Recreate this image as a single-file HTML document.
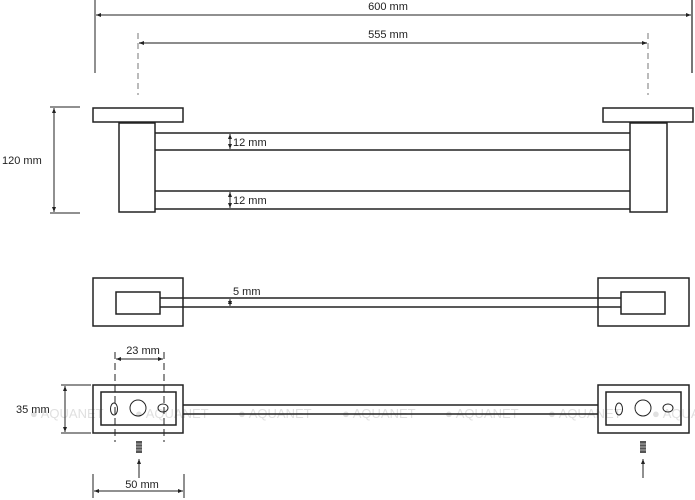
<!DOCTYPE html>
<html><head><meta charset="utf-8"><style>
html,body{margin:0;padding:0;background:#fff;}
svg{display:block;}
text{font-family:"Liberation Sans",sans-serif;font-size:11px;fill:#222;}
.w{font-size:13px;fill:#e0e0e0;}
</style></head><body>
<svg width="695" height="500" viewBox="0 0 695 500">
<defs>
<marker id="a" markerWidth="6" markerHeight="6" refX="5" refY="3" orient="auto-start-reverse" markerUnits="userSpaceOnUse"><path d="M0,1 L5,3 L0,5 z" fill="#222"/></marker>
</defs>
<g>
<text class="w" x="30" y="418">● AQUANET</text>
<text class="w" x="135" y="418">● AQUANET</text>
<text class="w" x="238" y="418">● AQUANET</text>
<text class="w" x="342" y="418">● AQUANET</text>
<text class="w" x="445" y="418">● AQUANET</text>
<text class="w" x="548" y="418">● AQUANET</text>
<text class="w" x="652" y="418">● AQUANET</text>
</g>
<g stroke="#222" fill="none" stroke-width="1">
<line x1="95" y1="0" x2="95" y2="73"/>
<line x1="692" y1="0" x2="692" y2="73" stroke="#777" stroke-width="2"/>
<line x1="96" y1="15" x2="691" y2="15" marker-start="url(#a)" marker-end="url(#a)"/>
<line x1="138" y1="33" x2="138" y2="95" stroke="#777" stroke-dasharray="6,4"/>
<line x1="648" y1="33" x2="648" y2="95" stroke="#777" stroke-dasharray="6,4"/>
<line x1="139" y1="43" x2="647" y2="43" stroke="#666" stroke-width="1.5" marker-start="url(#a)" marker-end="url(#a)"/>
<line x1="50" y1="107" x2="80" y2="107"/>
<line x1="50" y1="213" x2="80" y2="213"/>
<line x1="54" y1="108" x2="54" y2="212" marker-start="url(#a)" marker-end="url(#a)"/>
<g stroke-width="1.5">
<rect x="93" y="108" width="90" height="14"/>
<rect x="119" y="123" width="36" height="89"/>
<rect x="603" y="108" width="90" height="14"/>
<rect x="630" y="123" width="37" height="89"/>
<line x1="155" y1="133" x2="630" y2="133"/>
<line x1="155" y1="150" x2="630" y2="150"/>
<line x1="155" y1="191" x2="630" y2="191"/>
<line x1="155" y1="209" x2="630" y2="209"/>
</g>
<line x1="230" y1="134" x2="230" y2="149" marker-start="url(#a)" marker-end="url(#a)"/>
<line x1="230" y1="192" x2="230" y2="208" marker-start="url(#a)" marker-end="url(#a)"/>
<g stroke-width="1.5">
<rect x="93" y="278" width="90" height="48"/>
<rect x="116" y="292" width="44" height="22"/>
<rect x="598" y="278" width="91" height="48"/>
<rect x="621" y="292" width="44" height="22"/>
<line x1="160" y1="298" x2="621" y2="298"/>
<line x1="160" y1="307" x2="621" y2="307"/>
</g>
<line x1="230" y1="299" x2="230" y2="306" marker-start="url(#a)" marker-end="url(#a)"/>
<g stroke-width="1.5">
<rect x="93" y="385" width="90" height="48"/>
<rect x="101" y="392" width="75" height="33"/>
<rect x="598" y="385" width="91" height="48"/>
<rect x="606" y="392" width="75" height="33"/>
<line x1="183" y1="405" x2="598" y2="405"/>
<line x1="183" y1="414" x2="598" y2="414"/>
</g>
<ellipse cx="114" cy="409" rx="3.5" ry="6"/>
<circle cx="138" cy="408" r="8"/>
<ellipse cx="163" cy="408" rx="5" ry="4"/>
<ellipse cx="619" cy="409" rx="3.5" ry="6"/>
<circle cx="643" cy="408" r="8"/>
<ellipse cx="668" cy="408" rx="5" ry="4"/>
<line x1="115" y1="352" x2="115" y2="442" stroke-dasharray="7,4"/>
<line x1="164" y1="352" x2="164" y2="442" stroke-dasharray="7,4"/>
<line x1="116" y1="359" x2="163" y2="359" marker-start="url(#a)" marker-end="url(#a)"/>
<line x1="61" y1="385" x2="91" y2="385"/>
<line x1="61" y1="433" x2="91" y2="433"/>
<line x1="65" y1="386" x2="65" y2="432" marker-start="url(#a)" marker-end="url(#a)"/>
<line x1="93" y1="474" x2="93" y2="498"/>
<line x1="184" y1="474" x2="184" y2="498"/>
<line x1="94" y1="491" x2="183" y2="491" marker-start="url(#a)" marker-end="url(#a)"/>
<line x1="139" y1="478" x2="139" y2="459" marker-end="url(#a)"/>
<line x1="643" y1="478" x2="643" y2="459" marker-end="url(#a)"/>
</g>
<rect x="136" y="441" width="6" height="12" fill="#555"/>
<rect x="640" y="441" width="6" height="12" fill="#555"/>
<g stroke="#ccc" stroke-width="0.8">
<line x1="136" y1="444" x2="142" y2="444"/><line x1="136" y1="447" x2="142" y2="447"/><line x1="136" y1="450" x2="142" y2="450"/>
<line x1="640" y1="444" x2="646" y2="444"/><line x1="640" y1="447" x2="646" y2="447"/><line x1="640" y1="450" x2="646" y2="450"/>
</g>
<text x="388" y="10" text-anchor="middle">600 mm</text>
<text x="388" y="38" text-anchor="middle">555 mm</text>
<text x="2" y="164">120 mm</text>
<text x="233" y="146">12 mm</text>
<text x="233" y="204">12 mm</text>
<text x="233" y="295">5 mm</text>
<text x="143" y="354" text-anchor="middle">23 mm</text>
<text x="16" y="413">35 mm</text>
<text x="142" y="488" text-anchor="middle">50 mm</text>
</svg>
</body></html>
